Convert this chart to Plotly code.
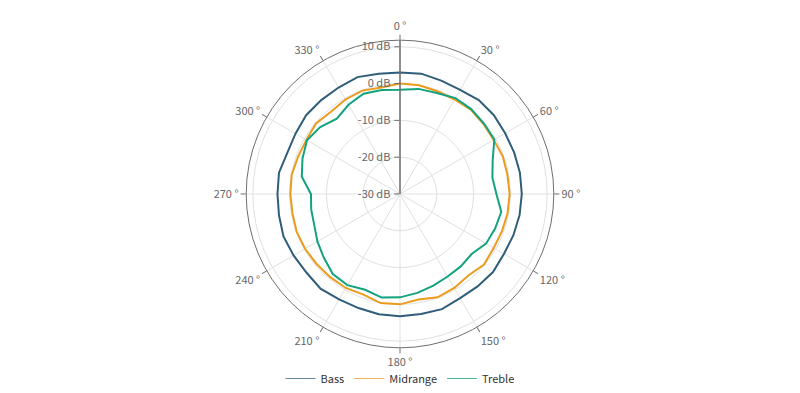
import plotly.graph_objects as go

angles = list(range(0, 360, 10))

bass = [3.0, 3.2, 2.8, 2.7, 3.3, 3.3, 3.0, 3.0, 3.1, 3.1,
        3.0, 2.8, 2.6, 3.0, 2.8, 2.7, 3.3, 3.1, 3.2, 3.2,
        3.0, 3.1, 3.6, 3.2, 3.4, 3.7, 3.4, 3.3, 3.4, 2.6,
        2.8, 3.3, 3.3, 3.4, 3.8, 3.2]

midrange = [0.0, 0.0, -0.3, -0.35, -0.1, -0.4, -0.6, -0.25, -0.35, -0.2,
            -0.3, -0.5, -0.6, -0.2, -1.1, -0.5, -0.1, -0.9, 0.0, 0.1,
            -0.9, -0.5, -0.5, -0.4, -0.2, -0.1, -0.3, -0.2, -0.1, -0.5,
            -0.6, -0.2, -0.8, -0.35, -0.1, -0.6]

treble = [-1.7, -1.0, -0.8, 0.1, 0.1, -0.2, -0.4, -3.2, -4.5, -3.8,
          -2.05, -2.5, -3.0, -4.6, -4.3, -4.1, -3.5, -2.7, -1.9, -1.4,
          -2.3, -1.4, -1.6, -3.0, -4.1, -5.2, -5.5, -5.8, -2.9, -1.8,
          -0.8, -1.7, -3.3, -2.0, -1.0, -1.3]

radial_ticks = [-30, -20, -10, 0, 10]
radial_labels = ["-30 dB", "-20 dB", "-10 dB", "0 dB", "10 dB"]

series = [("Bass", bass, "#2f5d7a"),
          ("Midrange", midrange, "#eb9c1f"),
          ("Treble", treble, "#12a37e")]

fig = go.Figure()
for name, vals, color in series:
    fig.add_trace(go.Scatterpolar(
        r=vals + [vals[0]],
        theta=angles + [angles[0]],
        mode="lines",
        name=name,
        showlegend=False,
        line=dict(color=color, width=2),
        hoverinfo="skip",
    ))
# legend entries (thin line samples as in the reference)
for name, vals, color in series:
    fig.add_trace(go.Scatterpolar(
        r=[None], theta=[None], mode="lines", name=name,
        line=dict(color=color, width=1.2), opacity=0.75,
        showlegend=True, hoverinfo="skip",
    ))

font = "Noto Sans CJK SC, Noto Sans, sans-serif"

fig.update_layout(
    width=800, height=393,
    margin=dict(l=0, r=0, t=0, b=0),
    paper_bgcolor="white",
    font=dict(family=font, size=12, color="#666"),
    showlegend=True,
    legend=dict(orientation="h", x=0.5, xanchor="center", y=0.016, yanchor="middle",
                font=dict(size=11, color="#333"), itemwidth=30,
                bgcolor="rgba(0,0,0,0)", tracegroupgap=0),
    polar=dict(
        domain=dict(x=[0.30375, 0.69625], y=[1 - 355 / 393, 1 - 41 / 393]),
        bgcolor="white",
        angularaxis=dict(
            rotation=90, direction="clockwise",
            dtick=30, ticksuffix=" °",
            showline=True, linecolor="#6e6e6e", linewidth=1,
            ticks="outside", ticklen=5, tickcolor="#6e6e6e",
            gridcolor="#e0e0e0", gridwidth=1,
            tickfont=dict(size=11, color="#666"),
        ),
        radialaxis=dict(
            range=[-30, 11.8], angle=90, side="counterclockwise",
            tickmode="array", tickvals=radial_ticks, ticktext=radial_labels,
            showline=True, linecolor="#6e6e6e", linewidth=1.5,
            ticks="outside", ticklen=5, tickcolor="#6e6e6e",
            gridcolor="#e0e0e0", gridwidth=1,
            tickfont=dict(size=11, color="#666"),
            tickangle=90,
        ),
    ),
)

fig.write_html("out.html",
               config={"displayModeBar": False},
               post_script="document.body.style.margin='0';document.body.style.overflow='hidden';")
